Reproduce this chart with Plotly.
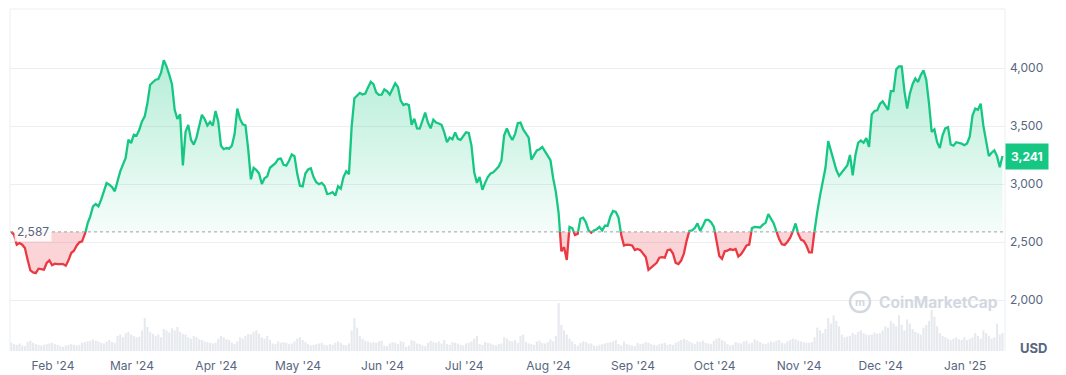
import numpy as np
import pandas as pd
import plotly.graph_objects as go

# ---------------- data ----------------
start_date = "2024-01-16 16:30"
base_price = 2587
last_price = 3241
price_ticks = [2000, 2500, 3000, 3500, 4000]

price = [
    2587, 2563, 2477, 2491, 2477, 2448, 2347, 2255, 2238, 2232,
    2270, 2267, 2261, 2319, 2342, 2300, 2313, 2310, 2307, 2310,
    2296, 2342, 2405, 2425, 2468, 2497, 2505, 2560, 2658, 2721,
    2807, 2827, 2807, 2865, 2937, 3008, 2994, 2974, 2937, 3023,
    3109, 3167, 3224, 3382, 3353, 3425, 3417, 3468, 3540, 3583,
    3698, 3856, 3879, 3899, 3905, 3960, 4066, 4014, 3943, 3860,
    3640, 3560, 3600, 3160, 3450, 3510, 3380, 3339, 3400, 3510,
    3597, 3560, 3505, 3535, 3505, 3630, 3540, 3330, 3300, 3310,
    3305, 3330, 3430, 3650, 3560, 3515, 3505, 3300, 3040, 3140,
    3120, 3090, 3000, 3050, 3066, 3140, 3157, 3180, 3215, 3220,
    3165, 3158, 3200, 3255, 3240, 3090, 2985, 2980, 3090, 3125,
    3135, 3060, 3015, 2998, 3010, 2985, 2914, 2918, 2930, 2900,
    2980, 2960, 3060, 3110, 3085, 3497, 3740, 3760, 3785, 3772,
    3780, 3833, 3880, 3860, 3790, 3768, 3770, 3815, 3800, 3770,
    3815, 3868, 3835, 3720, 3680, 3690, 3680, 3511, 3563, 3480,
    3478, 3550, 3615, 3530, 3480, 3555, 3530, 3522, 3510, 3445,
    3360, 3400, 3385, 3445, 3390, 3380, 3410, 3445, 3440, 3330,
    3100, 3010, 3060, 2950, 3010, 3060, 3090, 3100, 3125, 3150,
    3200, 3420, 3480, 3420, 3380, 3430, 3525, 3530, 3470, 3430,
    3400, 3210, 3250, 3290, 3300, 3320, 3281, 3240, 3205, 3050,
    2930, 2750, 2420, 2455, 2345, 2630, 2620, 2560, 2570, 2700,
    2710, 2670, 2600, 2580, 2600, 2610, 2630, 2600, 2640, 2640,
    2720, 2768, 2760, 2710, 2560, 2470, 2478, 2475, 2470, 2430,
    2440, 2430, 2400, 2370, 2260, 2280, 2300, 2320, 2365, 2370,
    2365, 2430, 2435, 2400, 2320, 2310, 2340, 2400, 2510, 2595,
    2600, 2620, 2660, 2595, 2640, 2690, 2690, 2670, 2630, 2520,
    2380, 2355, 2420, 2425, 2440, 2430, 2440, 2375, 2395, 2430,
    2470, 2478, 2620, 2630, 2628, 2625, 2650, 2665, 2740, 2700,
    2660, 2590, 2525, 2480, 2475, 2500, 2535, 2590, 2660, 2570,
    2520, 2510, 2470, 2410, 2410, 2600, 2760, 2900, 3020, 3140,
    3370, 3290, 3200, 3120, 3070, 3100, 3120, 3160, 3250, 3075,
    3250, 3355, 3375, 3355, 3395, 3320, 3600, 3630, 3635, 3690,
    3713, 3680, 3640, 3800, 3800, 3990, 4014, 4014, 3800, 3650,
    3780, 3860, 3910, 3880, 3940, 3980, 3900, 3700, 3450, 3470,
    3360, 3310, 3420, 3480, 3490, 3340, 3330, 3360, 3355, 3348,
    3335, 3350, 3410, 3590, 3650, 3640, 3692, 3500, 3370, 3240,
    3270, 3290, 3240, 3144, 3241,
]

# daily traded volume, billions of USD
volume_b = [
    12, 10, 9, 11, 8, 7, 13, 15, 12, 10, 9, 8, 9, 10, 11, 12,
    10, 9, 7, 6, 8, 9, 10, 9, 8, 9, 12, 13, 14, 15,
    17, 15, 14, 12, 11, 14, 16, 13, 12, 22, 24, 20, 26, 28, 24,
    22, 20, 21, 30, 48, 35, 28, 25, 22, 24, 20, 32, 30, 27, 33,
    30, 35, 28, 25, 24, 20, 18, 22, 20, 17, 16, 14, 13, 12, 11, 12,
    18, 22, 20, 17, 16, 12, 10, 14, 20, 18, 22, 25, 24, 28, 30,
    25, 20, 18, 22, 16, 11, 10, 14, 12, 13, 12, 10, 11, 14, 18,
    20, 16, 13, 10, 8, 9, 10, 11, 12, 9, 8, 10, 9, 12, 14,
    12, 9, 8, 11, 30, 48, 34, 22, 18, 15, 14, 12, 13, 12, 14, 15,
    8, 7, 11, 13, 12, 10, 14, 13, 6, 8, 16, 14, 11, 10, 8,
    7, 12, 15, 13, 12, 14, 11, 16, 10, 9, 13, 12, 11, 9, 8,
    11, 12, 14, 18, 22, 10, 9, 13, 12, 11, 9, 8, 10, 11, 20,
    18, 15, 14, 16, 12, 22, 24, 13, 11, 10, 9, 14, 15, 12, 11, 13,
    17, 14, 22, 70, 38, 30, 24, 18, 14, 10, 8, 12, 14, 13, 11,
    11, 8, 7, 9, 10, 11, 12, 13, 14, 16, 10, 8, 14, 10, 9, 8,
    7, 12, 10, 11, 13, 12, 10, 9, 8, 10, 11, 12, 9, 10, 9,
    12, 14, 16, 18, 16, 14, 12, 10, 14, 13, 15, 12, 11, 10, 15,
    18, 19, 16, 14, 10, 8, 9, 13, 12, 11, 14, 15, 11, 12, 17,
    15, 13, 11, 10, 12, 14, 13, 15, 16, 12, 11, 14, 16, 18, 17, 15,
    14, 13, 12, 12, 13, 20, 34, 30, 26, 32, 48, 40, 52, 44, 36,
    24, 20, 21, 22, 26, 24, 28, 30, 26, 24, 23, 24, 27, 25, 26,
    30, 36, 34, 44, 40, 36, 52, 38, 30, 46, 40, 32, 28, 26, 24,
    34, 38, 44, 60, 50, 36, 26, 22, 20, 18, 16, 18, 20, 17, 16, 20,
    16, 18, 20, 26, 22, 18, 30, 26, 22, 18, 20, 40, 24, 26,
]

# ---------------- styling ----------------
GREEN = "#16c784"
RED = "#ea3943"
GRID = "#eceef2"
LABEL = "#58667e"
FONT = "Inter, Roboto, 'Noto Sans', sans-serif"

dates = pd.date_range(start_date, periods=len(price), freq="D")

# insert baseline crossing points so the colour switches exactly on the baseline
t = dates.values.astype("datetime64[ns]").astype(np.int64)
xs, ys = [], []
for i, p in enumerate(price):
    if i > 0:
        p0 = price[i - 1]
        if (p0 - base_price) * (p - base_price) < 0:
            f = (base_price - p0) / (p - p0)
            xs.append(int(t[i - 1] + f * (t[i] - t[i - 1])))
            ys.append(base_price)
    xs.append(int(t[i]))
    ys.append(p)
xs = pd.to_datetime(np.array(xs, dtype="int64"))
ys = np.array(ys, dtype=float)

up = np.maximum(ys, base_price)
dn = np.minimum(ys, base_price)
green_line = [y if y >= base_price else None for y in ys]
red_line = [y if y <= base_price else None for y in ys]
base_line = [base_price] * len(ys)

fig = go.Figure()

# volume bars on a hidden overlay axis
fig.add_trace(go.Bar(
    x=dates, y=volume_b, yaxis="y2", marker=dict(color="#e6e9ee", line=dict(width=0)),
    hoverinfo="skip", showlegend=False,
))

# green area
fig.add_trace(go.Scatter(x=xs, y=base_line, mode="lines", line=dict(width=0),
                         hoverinfo="skip", showlegend=False))
fig.add_trace(go.Scatter(
    x=xs, y=up, mode="lines", line=dict(width=0), fill="tonexty",
    fillgradient=dict(type="vertical",
                      colorscale=[[0, "rgba(22,199,132,0.04)"], [1, "rgba(22,199,132,0.32)"]],
                      start=base_price, stop=4100),
    hoverinfo="skip", showlegend=False))
# red area
fig.add_trace(go.Scatter(x=xs, y=base_line, mode="lines", line=dict(width=0),
                         hoverinfo="skip", showlegend=False))
fig.add_trace(go.Scatter(
    x=xs, y=dn, mode="lines", line=dict(width=0), fill="tonexty",
    fillcolor="rgba(234,57,67,0.22)", hoverinfo="skip", showlegend=False))

# price lines
fig.add_trace(go.Scatter(x=xs, y=green_line, mode="lines",
                         line=dict(color=GREEN, width=2.3), connectgaps=False,
                         showlegend=False))
fig.add_trace(go.Scatter(x=xs, y=red_line, mode="lines",
                         line=dict(color=RED, width=2.3), connectgaps=False,
                         showlegend=False))

day = pd.Timedelta(days=1)
x0 = dates[0] - 0.477 * day
x1 = dates[0] + 364.93 * day

fig.update_layout(
    width=1066, height=375,
    margin=dict(l=10, r=61, t=9, b=24),
    paper_bgcolor="white", plot_bgcolor="white",
    font=dict(family=FONT, color=LABEL, size=12),
    bargap=0.22,
    xaxis=dict(
        type="date", range=[x0, x1], showgrid=False, zeroline=False, showline=False,
        ticks="", dtick="M1", tick0="2024-02-01", tickformat="%b '%y",
        tickfont=dict(size=12, color=LABEL), ticklabelstandoff=6, automargin=False,
    ),
    yaxis=dict(
        side="right", range=[1560.3, 4508.6], tickvals=price_ticks, tickformat=",",
        showgrid=True, gridcolor=GRID, gridwidth=1, zeroline=False, showline=False,
        ticks="", tickfont=dict(size=12, color=LABEL), ticklabelstandoff=4,
        automargin=False,
    ),
    yaxis2=dict(overlaying="y", range=[0, 70 * 342 / 48], visible=False),
    showlegend=False,
)

shapes = [
    dict(type="line", xref="paper", yref="paper", x0=0, x1=1, y0=1, y1=1,
         line=dict(color=GRID, width=1)),
    dict(type="line", xref="paper", yref="paper", x0=0, x1=0, y0=0, y1=1,
         line=dict(color=GRID, width=1)),
    dict(type="line", xref="paper", yref="paper", x0=1, x1=1, y0=0, y1=1,
         line=dict(color=GRID, width=1)),
    dict(type="line", xref="paper", yref="y", x0=0, x1=(1003 - 10) / 995,
         y0=base_price, y1=base_price, line=dict(color="#9aa1ad", width=1, dash="dot")),
    # watermark logo ring
    dict(type="circle", xref="paper", yref="paper",
         x0=(850 - 10) / 995, x1=(870 - 10) / 995,
         y0=(351 - 312) / 342, y1=(351 - 292) / 342,
         line=dict(color="#d3d8e0", width=2.5), layer="above"),
]
fig.update_layout(shapes=shapes)

annotations = [
    dict(xref="paper", yref="y", x=0.004, y=base_price, xanchor="left", yanchor="middle",
         text=f"{base_price:,}", showarrow=False, bgcolor="rgba(255,255,255,0.85)",
         borderpad=2, font=dict(size=12, color=LABEL)),
    dict(xref="paper", yref="y", x=1, y=last_price, xanchor="left", yanchor="middle",
         text=f"<b>{last_price:,}</b>", showarrow=False, bgcolor=GREEN, borderpad=5,
         font=dict(size=12, color="white")),
    dict(xref="paper", yref="paper", x=(1018 - 10) / 995, y=(351 - 348) / 342,
         xanchor="left", yanchor="middle", text="<b>USD</b>", showarrow=False,
         font=dict(size=13, color=LABEL)),
    dict(xref="paper", yref="paper", x=(877 - 10) / 995, y=(351 - 302) / 342,
         xanchor="left", yanchor="middle", text="<b>CoinMarketCap</b>", showarrow=False,
         font=dict(size=15.5, color="#d3d8e0")),
    dict(xref="paper", yref="paper", x=(860 - 10) / 995, y=(351 - 302) / 342,
         xanchor="center", yanchor="middle", text="<b>m</b>", showarrow=False,
         font=dict(size=11, color="#d3d8e0")),
]
fig.update_layout(annotations=annotations)

fig.write_html("out.html", config={"displayModeBar": False})
